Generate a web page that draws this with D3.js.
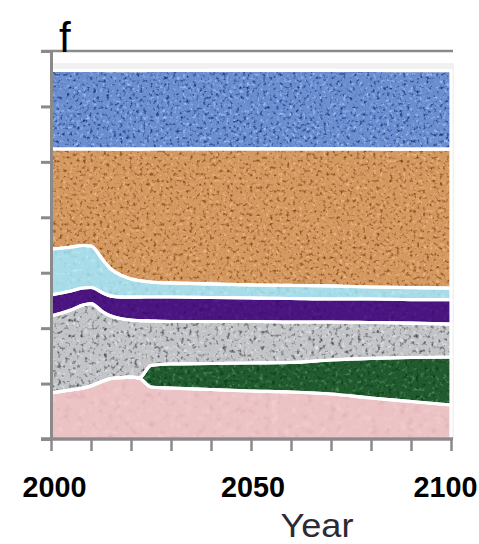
<!DOCTYPE html>
<html>
<head>
<meta charset="utf-8">
<script src="https://cdn.jsdelivr.net/npm/d3@7"></script>
<style>
  html, body { margin: 0; padding: 0; background: #fff; }
  svg { display: block; }
</style>
</head>
<body>
<svg id="chart" width="479" height="544"></svg>
<script>
// ---- data ----
const years  = [2000, 2005, 2008, 2010, 2013, 2015, 2018, 2020, 2022, 2025, 2030, 2040, 2050, 2060, 2070, 2080, 2090, 2100];
const pink   = [8.3, 8.84, 9.2, 9.56, 10.46, 10.91, 11.09, 11.18, 11.0, 9.38, 9.2, 8.93, 8.66, 8.48, 8.12, 7.4, 6.76, 6.13];
const green  = [0, 0, 0, 0, 0, 0, 0, 0, 0, 3.88, 4.33, 4.69, 5.05, 5.32, 6.13, 7.13, 7.94, 8.66];
const gray   = [13.89, 14.43, 14.97, 14.88, 12.45, 11.27, 10.55, 10.28, 10.37, 8.03, 7.67, 7.58, 7.49, 7.31, 6.86, 6.49, 6.22, 5.95];
const purple = [3.79, 3.43, 3.07, 2.89, 3.43, 3.61, 3.97, 4.15, 4.24, 4.33, 4.42, 4.33, 4.24, 4.24, 4.15, 4.24, 4.24, 4.42];
const cyan   = [8.3, 7.94, 7.67, 7.49, 5.95, 4.87, 3.79, 3.25, 2.98, 2.71, 2.53, 2.44, 2.35, 2.35, 2.35, 2.16, 2.16, 2.07];
const orange = [18.04, 17.68, 17.41, 17.5, 20.03, 21.65, 22.91, 23.45, 23.72, 23.99, 24.17, 24.36, 24.54, 24.63, 24.72, 24.9, 24.99, 25.08];
const blue   = [14.16, 14.16, 14.16, 14.16, 14.16, 14.16, 14.16, 14.16, 14.16, 14.16, 14.16, 14.16, 14.16, 14.16, 14.16, 14.16, 14.16, 14.16];

const yTicks = [0, 10, 20, 30, 40, 50, 60, 70];
const xTicks = [2000, 2010, 2020, 2030, 2040, 2050, 2060, 2070, 2080, 2090, 2100];
const xLabels = [2000, 2050, 2100];
const panelLabel = "f";
const xTitle = "Year";

// ---- layout / styles ----
const seriesKeys = ["pink", "green", "gray", "purple", "cyan", "orange", "blue"];
const seriesData = {pink, green, gray, purple, cyan, orange, blue};
const styles = {
  blue:   {base: "#6a8ed0", dark: "#18357a", light: "#a6c3f3", kd: 3.4, kl: 3.2, freq: 0.3},
  orange: {base: "#d39961", dark: "#884412", light: "#f3bf8c", kd: 3.2, kl: 2.8, freq: 0.3},
  cyan:   {base: "#a8dce8", dark: "#84c2d2", light: "#cdeff6", kd: 2.0, kl: 2.0, freq: 0.22},
  purple: {base: "#4a1580", dark: "#320860", light: "#62289a", kd: 2.0, kl: 2.0, freq: 0.25},
  gray:   {base: "#c2c4c7", dark: "#4c4f54", light: "#ebebec", kd: 3.2, kl: 2.8, freq: 0.26},
  green:  {base: "#215a2e", dark: "#043811", light: "#559565", kd: 2.8, kl: 2.8, freq: 0.25},
  pink:   {base: "#ecc3c5", dark: "#dba9ad", light: "#f6d4d6", kd: 1.8, kl: 1.8, freq: 0.14}
};
const fontFam = "Liberation Sans, Arimo, Roboto, Arial, sans-serif";

const svg = d3.select("#chart");
const x = d3.scaleLinear().domain([2000, 2100]).range([51, 451]);
const y = d3.scaleLinear().domain([0, 70]).range([439, 51]);

// texture filters
const defs = svg.append("defs");
function rgb01(h) { const c = d3.rgb(h); return [c.r / 255, c.g / 255, c.b / 255]; }
seriesKeys.forEach((k, i) => {
  const s = styles[k];
  const f = defs.append("filter").attr("id", "tex-" + k)
    .attr("x", "0").attr("y", "0").attr("width", "1").attr("height", "1")
    .attr("color-interpolation-filters", "sRGB");
  f.append("feTurbulence").attr("type", "fractalNoise").attr("baseFrequency", s.freq)
    .attr("numOctaves", 2).attr("seed", 3 + i * 7).attr("result", "noise");
  const d = rgb01(s.dark), l = rgb01(s.light);
  f.append("feColorMatrix").attr("in", "noise").attr("type", "matrix")
    .attr("values", `0 0 0 0 ${d[0]} 0 0 0 0 ${d[1]} 0 0 0 0 ${d[2]} ${s.kd} 0 0 0 ${-s.kd * 0.55}`)
    .attr("result", "dark");
  f.append("feColorMatrix").attr("in", "noise").attr("type", "matrix")
    .attr("values", `0 0 0 0 ${l[0]} 0 0 0 0 ${l[1]} 0 0 0 0 ${l[2]} 0 ${-s.kl} 0 0 ${s.kl * 0.45}`)
    .attr("result", "light");
  const m = f.append("feMerge").attr("result", "merged");
  m.append("feMergeNode").attr("in", "SourceGraphic");
  m.append("feMergeNode").attr("in", "light");
  m.append("feMergeNode").attr("in", "dark");
  f.append("feComposite").attr("in", "merged").attr("in2", "SourceAlpha").attr("operator", "in");
});

// light background of plot
svg.append("rect").attr("x", x(2000) + 1).attr("y", y(67.8)).attr("width", x(2100) - x(2000) + 2)
  .attr("height", y(0) - y(67.8)).attr("fill", "#f1f1f1");

// stacked data
const table = years.map((yr, i) => {
  const row = {year: yr};
  seriesKeys.forEach(k => row[k] = seriesData[k][i]);
  return row;
});
const stacked = d3.stack().keys(seriesKeys)(table);
const area = d3.area()
  .x(d => x(d.data.year))
  .y0(d => y(d[0]))
  .y1(d => y(d[1]))
  .curve(d3.curveMonotoneX);

const gAreas = svg.append("g");
gAreas.selectAll("path.fill").data(stacked).join("path")
  .attr("class", "fill")
  .attr("d", area)
  .attr("fill", d => styles[d.key].base)
  .attr("filter", d => `url(#tex-${d.key})`);
gAreas.selectAll("path.edge").data(stacked).join("path")
  .attr("class", "edge")
  .attr("d", area)
  .attr("fill", "none")
  .attr("stroke", "#ffffff")
  .attr("stroke-width", 3.2)
  .attr("stroke-linejoin", "round");

// axes
const axisColor = "#8a8a8a";
const gy = svg.append("g").attr("transform", `translate(${x(2000)},0)`)
  .call(d3.axisLeft(y).tickValues(yTicks).tickSize(10).tickSizeOuter(0).tickFormat(""));
gy.selectAll("path.domain").attr("stroke", axisColor).attr("stroke-width", 3);
gy.selectAll(".tick line").attr("stroke", axisColor).attr("stroke-width", 3);

const gx = svg.append("g").attr("transform", `translate(0,${y(0)})`)
  .call(d3.axisBottom(x).tickValues(xTicks).tickSize(12).tickSizeOuter(0)
    .tickFormat(d => xLabels.includes(d) ? String(d) : ""));
gx.select("path.domain").remove();
gx.selectAll(".tick line").attr("stroke", axisColor).attr("stroke-width", 2.5);
gx.selectAll(".tick text")
  .filter(d => xLabels.includes(d))
  .attr("y", 58).attr("dy", "0")
  .attr("dx", d => d === 2100 ? -6 : (d === 2000 ? 3 : 1.5))
  .attr("fill", "#000")
  .attr("textLength", 64).attr("lengthAdjust", "spacingAndGlyphs")
  .style("font-family", fontFam)
  .style("font-size", "30px").style("font-weight", "bold");

// frame lines (top and bottom), extending over the tick length
svg.append("line").attr("x1", x(2000) - 10).attr("x2", x(2100) + 2)
  .attr("y1", y(70)).attr("y2", y(70)).attr("stroke", axisColor).attr("stroke-width", 2.5);
svg.append("line").attr("x1", x(2000) - 10).attr("x2", x(2100) + 2)
  .attr("y1", y(0)).attr("y2", y(0)).attr("stroke", axisColor).attr("stroke-width", 3.5);

// panel label and axis title
svg.append("text").attr("x", 59).attr("y", 52).text(panelLabel)
  .attr("fill", "#000")
  .style("font-family", fontFam).style("font-size", "42px");
svg.append("text").attr("x", 317).attr("y", 537).attr("text-anchor", "middle").text(xTitle)
  .attr("fill", "#2b2b33")
  .attr("textLength", 73).attr("lengthAdjust", "spacingAndGlyphs")
  .style("font-family", fontFam).style("font-size", "33px");
</script>
</body>
</html>
